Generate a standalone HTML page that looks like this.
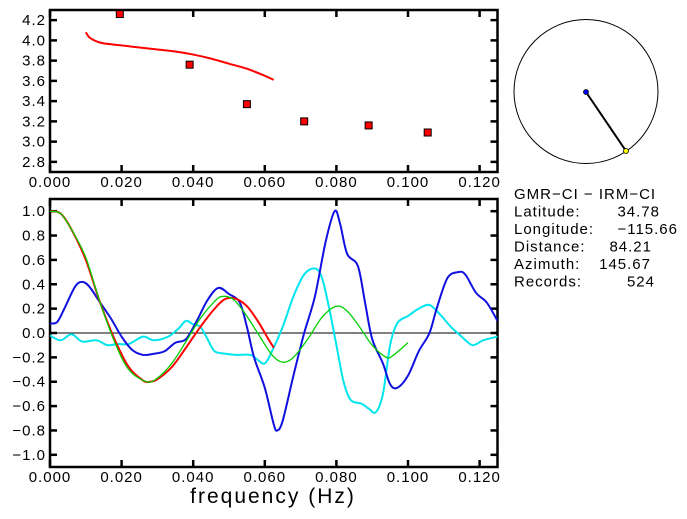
<!DOCTYPE html>
<html><head><meta charset="utf-8">
<style>
html,body{margin:0;padding:0;background:#fff;}
svg{display:block;font-family:"Liberation Sans",sans-serif;}
</style></head>
<body>
<svg id="chart" width="687" height="519" viewBox="0 0 687 519"></svg>
<script>
// ---- top panel data ----
const topTicksX = [0,0.02,0.04,0.06,0.08,0.10,0.12];
const topTickLabelsX = ["0.000","0.020","0.040","0.060","0.080","0.100","0.120"];
const topTicksY = [2.8,3.0,3.2,3.4,3.6,3.8,4.0,4.2];
const topTickLabelsY = ["2.8","3.0","3.2","3.4","3.6","3.8","4.0","4.2"];
const pointFreq = [0.0195,0.039,0.055,0.071,0.089,0.1055];
const pointVel = [4.26,3.76,3.37,3.20,3.16,3.09];
const curveFreq = [0.010,0.011,0.013,0.015,0.020,0.025,0.030,0.035,0.040,0.045,0.050,0.055,0.060,0.0625];
const curveVel = [4.08,4.03,3.99,3.97,3.95,3.93,3.91,3.89,3.86,3.82,3.77,3.72,3.65,3.61];
// ---- bottom panel data ----
const botTicksY = [-1,-0.8,-0.6,-0.4,-0.2,0,0.2,0.4,0.6,0.8,1.0];
const botTickLabelsY = ["\u22121.0","\u22120.8","\u22120.6","\u22120.4","\u22120.2","0.0","0.2","0.4","0.6","0.8","1.0"];
const redF = [0,0.003,0.006,0.01,0.014,0.018,0.022,0.026,0.028,0.03,0.034,0.038,0.042,0.046,0.049,0.052,0.055,0.058,0.061,0.0625];
const redV = [1.0,0.98,0.85,0.6,0.25,-0.05,-0.28,-0.39,-0.40,-0.38,-0.28,-0.12,0.05,0.2,0.28,0.28,0.22,0.1,-0.05,-0.12];
const greenF = [0,0.003,0.006,0.01,0.014,0.018,0.022,0.027,0.03,0.034,0.038,0.042,0.046,0.048,0.051,0.054,0.058,0.062,0.065,0.068,0.072,0.076,0.08,0.083,0.086,0.09,0.094,0.096,0.1];
const greenV = [1.0,0.98,0.85,0.62,0.25,-0.07,-0.3,-0.40,-0.37,-0.25,-0.07,0.12,0.26,0.30,0.28,0.18,0.0,-0.18,-0.24,-0.2,-0.05,0.13,0.22,0.18,0.07,-0.1,-0.2,-0.18,-0.08];
const blueF = [0,0.002,0.004,0.007,0.009,0.011,0.014,0.017,0.02,0.023,0.026,0.029,0.032,0.035,0.038,0.041,0.044,0.047,0.05,0.053,0.055,0.057,0.06,0.0625,0.0635,0.065,0.068,0.071,0.074,0.077,0.0795,0.081,0.083,0.086,0.088,0.09,0.093,0.095,0.097,0.1,0.103,0.106,0.108,0.111,0.114,0.116,0.119,0.122,0.125];
const blueV = [0.08,0.09,0.2,0.38,0.42,0.38,0.25,0.12,-0.03,-0.14,-0.18,-0.17,-0.15,-0.08,-0.05,0.1,0.27,0.37,0.32,0.25,0.05,-0.2,-0.45,-0.75,-0.8,-0.72,-0.35,0.0,0.3,0.75,1.0,0.9,0.65,0.55,0.25,-0.05,-0.25,-0.42,-0.45,-0.35,-0.15,0.0,0.2,0.45,0.5,0.48,0.33,0.25,0.1];
const cyanF = [0,0.003,0.006,0.009,0.013,0.016,0.019,0.022,0.026,0.029,0.033,0.036,0.038,0.04,0.042,0.044,0.046,0.049,0.052,0.056,0.058,0.06,0.062,0.065,0.068,0.071,0.074,0.076,0.078,0.08,0.082,0.084,0.087,0.089,0.091,0.093,0.095,0.097,0.1,0.103,0.106,0.109,0.112,0.115,0.118,0.121,0.125];
const cyanV = [-0.02,-0.06,-0.01,-0.07,-0.06,-0.1,-0.09,-0.09,-0.03,-0.06,-0.03,0.04,0.1,0.07,0.05,-0.05,-0.15,-0.17,-0.18,-0.18,-0.22,-0.25,-0.15,0.05,0.3,0.48,0.53,0.45,0.2,-0.1,-0.4,-0.55,-0.58,-0.62,-0.65,-0.5,-0.1,0.08,0.14,0.2,0.23,0.15,0.05,-0.03,-0.1,-0.06,-0.03];

const NS="http://www.w3.org/2000/svg";
const svg=document.getElementById('chart');
function mk(tag,attrs,parent){const e=document.createElementNS(NS,tag);for(const k in attrs)e.setAttribute(k,attrs[k]);(parent||svg).appendChild(e);return e;}

const X0=50,X1=497.5,F0=0,F1=0.125;
const xs=f=>X0+(f-F0)/(F1-F0)*(X1-X0);
const TY0=10,TY1=172,V0=2.7,V1=4.3;
const tys=v=>TY1-(v-V0)/(V1-V0)*(TY1-TY0);
const BY0=199,BY1=467,C0=-1.1,C1=1.1;
const bys=v=>BY1-(v-C0)/(C1-C0)*(BY1-BY0);

function smooth(pts){
  let d=`M${pts[0][0].toFixed(2)},${pts[0][1].toFixed(2)}`;
  for(let i=0;i<pts.length-1;i++){
    const p0=pts[Math.max(0,i-1)],p1=pts[i],p2=pts[i+1],p3=pts[Math.min(pts.length-1,i+2)];
    const c1x=p1[0]+(p2[0]-p0[0])/6,c1y=p1[1]+(p2[1]-p0[1])/6;
    const c2x=p2[0]-(p3[0]-p1[0])/6,c2y=p2[1]-(p3[1]-p1[1])/6;
    d+=` C${c1x.toFixed(2)},${c1y.toFixed(2)} ${c2x.toFixed(2)},${c2y.toFixed(2)} ${p2[0].toFixed(2)},${p2[1].toFixed(2)}`;
  }
  return d;
}

function panel(y0,y1,yt,ytl,yscale,name){
  const g=mk('g',{});
  
  
  const r=mk('rect',{x:X0,y:y0,width:X1-X0,height:y1-y0,fill:'none',stroke:'#000','stroke-width':2.5},g);
  
  
  topTicksX.forEach((f,i)=>{
    const x=xs(f);
    mk('line',{x1:x,y1:y0,x2:x,y2:y0+7,stroke:'#000','stroke-width':2.5},g);
    mk('line',{x1:x,y1:y1,x2:x,y2:y1-7,stroke:'#000','stroke-width':2.5},g);
    const t=mk('text',{x:x,y:y1+15,'text-anchor':'middle','font-size':15,'letter-spacing':1},g);
    t.textContent=topTickLabelsX[i];
    
    
  });
  yt.forEach((v,i)=>{
    const y=yscale(v);
    mk('line',{x1:X0,y1:y,x2:X0+7,y2:y,stroke:'#000','stroke-width':2.5},g);
    mk('line',{x1:X1,y1:y,x2:X1-7,y2:y,stroke:'#000','stroke-width':2.5},g);
    const t=mk('text',{x:X0-4,y:y+5,'text-anchor':'end','font-size':15,'letter-spacing':1},g);
    t.textContent=ytl[i];
    
    
  });
}
panel(TY0,TY1,topTicksY,topTickLabelsY,tys,'velocity-panel');
panel(BY0,BY1,botTicksY,botTickLabelsY,bys,'coherence-panel');

// top curve
const tc=mk('path',{d:smooth(curveFreq.map((f,i)=>[xs(f),tys(curveVel[i])])),fill:'none',stroke:'#f00','stroke-width':2});


pointFreq.forEach((f,i)=>{
  const x=xs(f),y=tys(pointVel[i]);
  const r=mk('rect',{x:x-3.5,y:y-3.5,width:7,height:7,fill:'#f00',stroke:'#000','stroke-width':1});
  
  
});

// zero line
const zl=mk('line',{x1:X0,x2:X1,y1:bys(0),y2:bys(0),stroke:'#000','stroke-width':1});


// clip
const cp=mk('clipPath',{id:'bclip'});mk('rect',{x:X0,y:BY0,width:X1-X0,height:BY1-BY0},cp);
[[cyanF,cyanV,'#00e5ee',2,'cyan-series'],[blueF,blueV,'#1010e0',2,'blue-series'],[redF,redV,'#f00',2,'red-series'],[greenF,greenV,'#00d000',1.3,'green-series']].forEach(s=>{
  const p=mk('path',{d:smooth(s[0].map((f,i)=>[xs(f),bys(s[1][i])])),fill:'none',stroke:s[2],'stroke-width':s[3],'clip-path':'url(#bclip)'});
  
  
});

const xl=mk('text',{x:273,y:503,'text-anchor':'middle','font-size':21,'letter-spacing':2});
xl.textContent='frequency (Hz)';



// compass
const cc=mk('circle',{cx:586,cy:91.5,r:72,fill:'none',stroke:'#000','stroke-width':1});


const al=mk('line',{x1:586,y1:92,x2:626,y2:151,stroke:'#000','stroke-width':2});


const bd=mk('circle',{cx:586,cy:92,r:2.5,fill:'#00f',stroke:'#000','stroke-width':0.8});


const yd=mk('circle',{cx:626,cy:151,r:2.5,fill:'#ff0',stroke:'#000','stroke-width':0.8});



const info=[["GMR\u2212CI  \u2212  IRM\u2212CI","",0],["Latitude:","34.78",660],["Longitude:","\u2212115.66",678],["Distance:","84.21",652],["Azimuth:","145.67",651],["Records:","524",655]];
info.forEach((r,i)=>{
  const y=199+i*17.5;
  const t=mk('text',{x:514,y:y,'font-size':15,'letter-spacing':1});
  t.textContent=r[0];
  
  
  if(r[1]){
    const v=mk('text',{x:r[2],y:y,'text-anchor':'end','font-size':15,'letter-spacing':1});
    v.textContent=r[1];
    
    
  }
});
</script>
</body></html>
